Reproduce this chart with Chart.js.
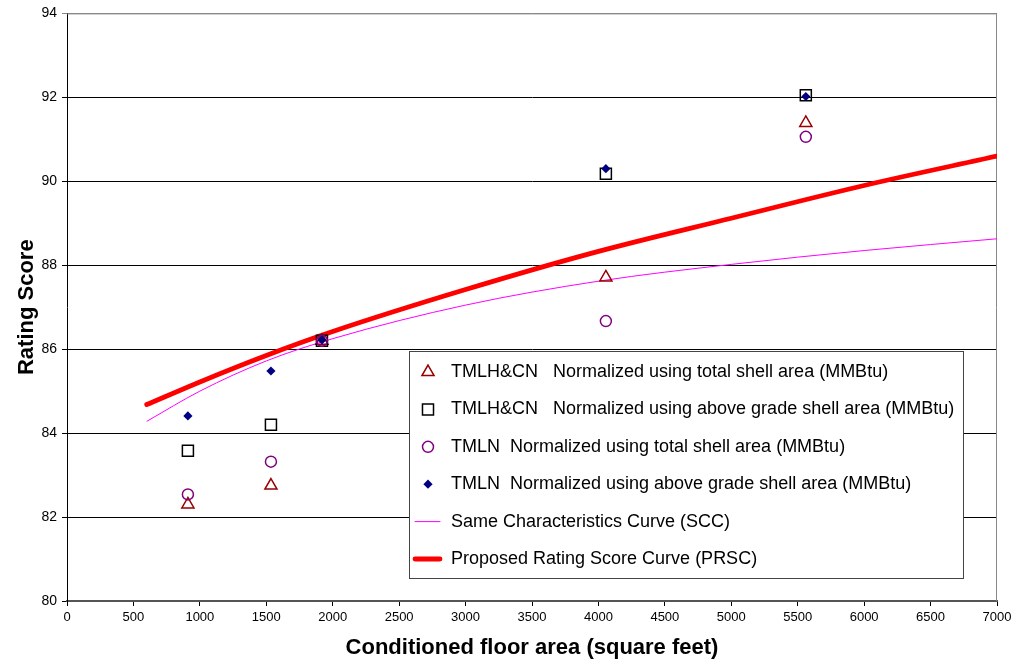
<!DOCTYPE html>
<html>
<head>
<meta charset="utf-8">
<script src="https://cdn.jsdelivr.net/npm/chart.js@4.4.0/dist/chart.umd.min.js"></script>
<style>
  html, body { margin: 0; padding: 0; background: #fff; }
  #wrap { width: 1029px; height: 664px; }
</style>
</head>
<body>
<div id="wrap"><canvas id="graph" width="1029" height="664"></canvas></div>
<script>
// measured points (conditioned floor area vs rating score)
var floorArea = [910, 1535, 1919, 4056, 5561];
var tmlhcnTotal = [82.30, 82.75, 86.20, 87.71, 91.39];
var tmlhcnAbove = [83.58, 84.20, 86.20, 90.18, 92.05];
var tmlnTotal = [82.54, 83.32, 86.20, 86.67, 91.06];
var tmlnAbove = [84.41, 85.48, 86.22, 90.30, 92.02];

// curves
var curveArea = [600, 1000, 1500, 2000, 3000, 4000, 5000, 6000, 7000];
var sccValues = [84.28, 85.00, 85.72, 86.25, 87.05, 87.62, 88.02, 88.35, 88.63];
var prscValues = [84.68, 85.22, 85.85, 86.42, 87.42, 88.33, 89.12, 89.90, 90.60];

var xTickValues = [0, 500, 1000, 1500, 2000, 2500, 3000, 3500, 4000, 4500, 5000, 5500, 6000, 6500, 7000];
var yTickValues = [80, 82, 84, 86, 88, 90, 92, 94];

var seriesLabels = [
  "TMLH&CN   Normalized using total shell area (MMBtu)",
  "TMLH&CN   Normalized using above grade shell area (MMBtu)",
  "TMLN  Normalized using total shell area (MMBtu)",
  "TMLN  Normalized using above grade shell area (MMBtu)",
  "Same Characteristics Curve (SCC)",
  "Proposed Rating Score Curve (PRSC)"
];

var FONT = "Arial, 'Liberation Sans', sans-serif";

function toPoints(xs, ys) {
  var pts = [];
  for (var i = 0; i < xs.length; i++) {
    pts.push({ x: xs[i], y: ys[i] });
  }
  return pts;
}

function markerSet(label, values, style, color, radius, filled, order) {
  return {
    label: label,
    data: toPoints(floorArea, values),
    showLine: false,
    pointStyle: style,
    pointRadius: radius,
    pointBorderWidth: filled ? 0 : 1.5,
    pointBorderColor: color,
    pointBackgroundColor: filled ? color : "transparent",
    order: order
  };
}

// legend drawn inside the plot, like the original
var boxLegend = {
  id: "boxLegend",
  afterDatasetsDraw: function (chart) {
    var ctx = chart.ctx;
    ctx.save();
    ctx.fillStyle = "#fff";
    ctx.fillRect(409.5, 351.5, 554, 227);
    ctx.strokeStyle = "#444";
    ctx.lineWidth = 1;
    ctx.strokeRect(409.5, 351.5, 554, 227);

    ctx.font = "18px " + FONT;
    ctx.textBaseline = "middle";
    ctx.textAlign = "left";
    chart.data.datasets.forEach(function (ds, i) {
      var y = 372 + i * 37.4;
      if (ds.showLine) {
        ctx.strokeStyle = ds.borderColor;
        ctx.lineWidth = ds.borderWidth;
        ctx.lineCap = "round";
        ctx.beginPath();
        ctx.moveTo(415, y);
        ctx.lineTo(440, y);
        ctx.stroke();
      } else {
        ctx.strokeStyle = ds.pointBorderColor;
        ctx.fillStyle = ds.pointBackgroundColor;
        ctx.lineWidth = ds.pointBorderWidth;
        Chart.helpers.drawPoint(ctx, {
          pointStyle: ds.pointStyle,
          radius: ds.pointRadius,
          rotation: 0,
          borderWidth: ds.pointBorderWidth
        }, 428, y);
      }
      ctx.fillStyle = "#000";
      ctx.fillText(ds.label, 451, y);
    });
    ctx.restore();
  }
};

var plotBorder = {
  id: "plotBorder",
  beforeDatasetsDraw: function (chart) {
    var a = chart.chartArea;
    var ctx = chart.ctx;
    ctx.save();
    ctx.strokeStyle = "#888";
    ctx.lineWidth = 1;
    ctx.beginPath();
    ctx.moveTo(a.left, a.top + 0.5);
    ctx.lineTo(a.right - 0.5, a.top + 0.5);
    ctx.lineTo(a.right - 0.5, a.bottom);
    ctx.stroke();
    ctx.restore();
  }
};

var ctx = document.getElementById("graph").getContext("2d");
var chart = new Chart(ctx, {
  type: "scatter",
  data: {
    datasets: [
      markerSet(seriesLabels[0], tmlhcnTotal, "triangle", "#990000", 7, false, 4),
      markerSet(seriesLabels[1], tmlhcnAbove, "rect", "#000000", 7.8, false, 3),
      markerSet(seriesLabels[2], tmlnTotal, "circle", "#800080", 5.5, false, 2),
      markerSet(seriesLabels[3], tmlnAbove, "rectRot", "#000080", 4.6, true, 1),
      {
        label: seriesLabels[4],
        data: toPoints(curveArea, sccValues),
        showLine: true,
        borderColor: "#ff00ff",
        borderWidth: 1,
        pointRadius: 0,
        cubicInterpolationMode: "monotone",
        order: 9
      },
      {
        label: seriesLabels[5],
        data: toPoints(curveArea, prscValues),
        showLine: true,
        borderColor: "#ff0000",
        borderWidth: 4.8,
        borderCapStyle: "round",
        pointRadius: 0,
        cubicInterpolationMode: "monotone",
        order: 8
      }
    ]
  },
  options: {
    responsive: false,
    animation: false,
    layout: { padding: { left: 0, top: 9, right: 32, bottom: 0 } },
    plugins: {
      legend: { display: false },
      tooltip: { enabled: false }
    },
    scales: {
      x: {
        type: "linear",
        min: 0,
        max: 7000,
        afterBuildTicks: function (axis) {
          axis.ticks = xTickValues.map(function (v) { return { value: v }; });
        },
        afterFit: function (axis) { axis.height = 63; },
        grid: { drawOnChartArea: false, drawTicks: true, tickLength: 5, color: "#000" },
        border: { color: "#555", width: 2 },
        ticks: {
          color: "#000",
          font: { family: FONT, size: 13 },
          padding: 4,
          maxRotation: 0,
          autoSkip: false,
          callback: function (v) { return String(v); }
        },
        title: {
          display: true,
          text: "Conditioned floor area (square feet)",
          color: "#000",
          font: { family: FONT, size: 22, weight: "bold" },
          padding: { top: 0, bottom: 3 }
        }
      },
      y: {
        type: "linear",
        min: 80,
        max: 94,
        afterBuildTicks: function (axis) {
          axis.ticks = yTickValues.map(function (v) { return { value: v }; });
        },
        afterFit: function (axis) { axis.width = 67; },
        grid: {
          tickLength: 5,
          color: function (c) { return c.tick && c.tick.value === 94 ? "#888" : "#000"; }
        },
        border: { color: "#000", width: 1 },
        ticks: { color: "#000", font: { family: FONT, size: 14 }, padding: 5 },
        title: {
          display: true,
          text: "Rating Score",
          color: "#000",
          font: { family: FONT, size: 22, weight: "bold" },
          padding: { top: 14, bottom: 0 }
        }
      }
    }
  },
  plugins: [plotBorder, boxLegend]
});
</script>
</body>
</html>
